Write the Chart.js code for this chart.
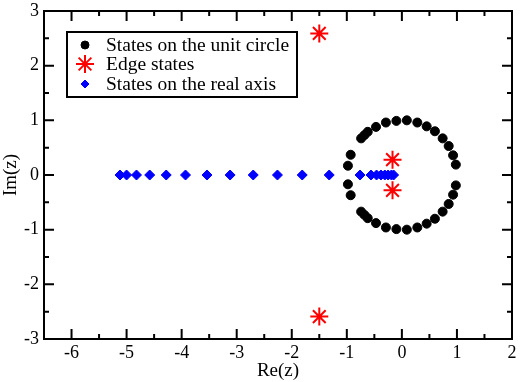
<!DOCTYPE html>
<html>
<head>
<meta charset="utf-8">
<script src="https://cdn.jsdelivr.net/npm/chart.js"></script>
<style>
  html, body { margin: 0; padding: 0; background: #fff; }
  #wrap { width: 523px; height: 382px; }
</style>
</head>
<body>
<div id="wrap"><canvas id="zChart"></canvas></div>
<script>
// States on the unit circle
const circleRe = [0.98, 0.93, 0.85, 0.74, 0.60, 0.45, 0.28, 0.09, -0.10, -0.29, -0.47, -0.62, -0.68, -0.74, -0.93, -0.98,
                  0.98, 0.93, 0.85, 0.74, 0.60, 0.45, 0.28, 0.09, -0.10, -0.29, -0.47, -0.62, -0.68, -0.74, -0.93, -0.98];
const circleIm = [0.19, 0.36, 0.53, 0.67, 0.80, 0.89, 0.96, 1.00, 0.99, 0.96, 0.88, 0.79, 0.73, 0.67, 0.37, 0.17,
                  -0.19, -0.36, -0.53, -0.67, -0.80, -0.89, -0.96, -1.00, -0.99, -0.96, -0.88, -0.79, -0.73, -0.67, -0.37, -0.17];

// Edge states
const edgeRe = [-1.50, -1.50, -0.17, -0.17];
const edgeIm = [2.59, -2.59, 0.28, -0.28];

// States on the real axis
const axisRe = [-5.12, -5.00, -4.82, -4.58, -4.28, -3.93, -3.54, -3.12, -2.70, -2.26, -1.81, -1.32,
                -0.76, -0.56, -0.46, -0.38, -0.31, -0.25, -0.19, -0.15];
const axisIm = [0, 0, 0, 0, 0, 0, 0, 0, 0, 0, 0, 0, 0, 0, 0, 0, 0, 0, 0, 0];

// Tick labels
const xTicks = [-6, -5, -4, -3, -2, -1, 0, 1, 2];
const yTicks = [-3, -2, -1, 0, 1, 2, 3];

const serif = '"Liberation Serif", "DejaVu Serif", serif';

function toPoints(xs, ys) {
    return xs.map((x, i) => ({ x: x, y: ys[i] }));
}

// Grace-style frame with inward ticks on all four sides
const framePlugin = {
    id: 'frame',
    afterDraw(chart) {
        const ctx = chart.ctx;
        const a = chart.chartArea;
        const xs = chart.scales.x;
        const ys = chart.scales.y;
        ctx.save();
        ctx.strokeStyle = '#000';
        ctx.lineWidth = 2;
        ctx.strokeRect(a.left, a.top, a.right - a.left, a.bottom - a.top);
        ctx.beginPath();
        xTicks.forEach((v, i) => {
            const p = xs.getPixelForValue(v);
            ctx.moveTo(p, a.bottom); ctx.lineTo(p, a.bottom - 10);
            ctx.moveTo(p, a.top); ctx.lineTo(p, a.top + 10);
            if (i < xTicks.length - 1) {
                const m = xs.getPixelForValue(v + 0.5);
                ctx.moveTo(m, a.bottom); ctx.lineTo(m, a.bottom - 5);
                ctx.moveTo(m, a.top); ctx.lineTo(m, a.top + 5);
            }
        });
        yTicks.forEach((v, i) => {
            const p = ys.getPixelForValue(v);
            ctx.moveTo(a.left, p); ctx.lineTo(a.left + 10, p);
            ctx.moveTo(a.right, p); ctx.lineTo(a.right - 10, p);
            if (i < yTicks.length - 1) {
                const m = ys.getPixelForValue(v + 0.5);
                ctx.moveTo(a.left, m); ctx.lineTo(a.left + 5, m);
                ctx.moveTo(a.right, m); ctx.lineTo(a.right - 5, m);
            }
        });
        ctx.stroke();
        ctx.restore();
    }
};

// Boxed legend inside the plot area
const legendBoxPlugin = {
    id: 'legendBox',
    afterDraw(chart) {
        const ctx = chart.ctx;
        const box = { x: 67, y: 32, w: 230, h: 65 };
        const rows = [45, 64, 84];
        const legendStyles = [
            { pointStyle: 'circle', radius: 4, borderWidth: 1 },
            { pointStyle: 'star', radius: 9, borderWidth: 2 },
            { pointStyle: 'rectRot', radius: 4, borderWidth: 1 }
        ];
        ctx.save();
        ctx.fillStyle = '#fff';
        ctx.fillRect(box.x, box.y, box.w, box.h);
        ctx.strokeStyle = '#000';
        ctx.lineWidth = 2;
        ctx.strokeRect(box.x, box.y, box.w, box.h);
        ctx.font = '19.5px ' + serif;
        ctx.textBaseline = 'middle';
        chart.data.datasets.forEach((ds, i) => {
            ctx.fillStyle = ds.backgroundColor;
            ctx.strokeStyle = ds.borderColor;
            ctx.lineWidth = legendStyles[i].borderWidth;
            Chart.helpers.drawPoint(ctx, { pointStyle: legendStyles[i].pointStyle, radius: legendStyles[i].radius,
                rotation: 0, borderWidth: legendStyles[i].borderWidth }, 85, rows[i]);
            ctx.fillStyle = '#000';
            ctx.fillText(ds.label, 106, rows[i] + 1);
        });
        ctx.restore();
    }
};

function initializeChart() {
    const ctx = document.getElementById('zChart').getContext('2d');
    new Chart(ctx, {
        type: 'scatter',
        data: {
            datasets: [{
                label: 'States on the unit circle',
                data: toPoints(circleRe, circleIm),
                backgroundColor: '#000',
                borderColor: '#000',
                pointStyle: 'circle',
                pointRadius: 4.5,
                borderWidth: 1
            }, {
                label: 'Edge states',
                data: toPoints(edgeRe, edgeIm),
                backgroundColor: '#ff0000',
                borderColor: '#ff0000',
                pointStyle: 'star',
                pointRadius: 9,
                borderWidth: 2
            }, {
                label: 'States on the real axis',
                data: toPoints(axisRe, axisIm),
                backgroundColor: '#0000ff',
                borderColor: '#0000ff',
                pointStyle: 'rectRot',
                pointRadius: 5,
                borderWidth: 1
            }]
        },
        options: {
            responsive: true,
            maintainAspectRatio: false,
            animation: false,
            layout: { padding: { top: 7, right: 6, left: 0, bottom: 0 } },
            scales: {
                x: {
                    type: 'linear',
                    min: -6.5,
                    max: 2,
                    afterBuildTicks: s => { s.ticks = xTicks.map(v => ({ value: v })); },
                    afterFit: s => { s.height = 43; s.paddingLeft = 0; s.paddingRight = 0; },
                    grid: { display: false, drawTicks: false },
                    border: { display: false },
                    ticks: { color: '#000', font: { family: serif, size: 18 }, padding: 3, maxRotation: 0 },
                    title: { display: true, text: 'Re(z)', color: '#000', font: { family: serif, size: 19 }, padding: { top: 0, bottom: 0 } }
                },
                y: {
                    type: 'linear',
                    min: -3,
                    max: 3,
                    afterBuildTicks: s => { s.ticks = yTicks.map(v => ({ value: v })); },
                    afterFit: s => { s.width = 44; s.paddingTop = 0; s.paddingBottom = 0; },
                    grid: { display: false, drawTicks: false },
                    border: { display: false },
                    ticks: { color: '#000', font: { family: serif, size: 18 }, padding: 5 },
                    title: { display: true, text: 'Im(z)', color: '#000', font: { family: serif, size: 19 }, padding: { top: 0, bottom: 0 } }
                }
            },
            plugins: {
                legend: { display: false },
                tooltip: { enabled: false }
            }
        },
        plugins: [framePlugin, legendBoxPlugin]
    });
}

document.addEventListener('DOMContentLoaded', initializeChart);
</script>
</body>
</html>
